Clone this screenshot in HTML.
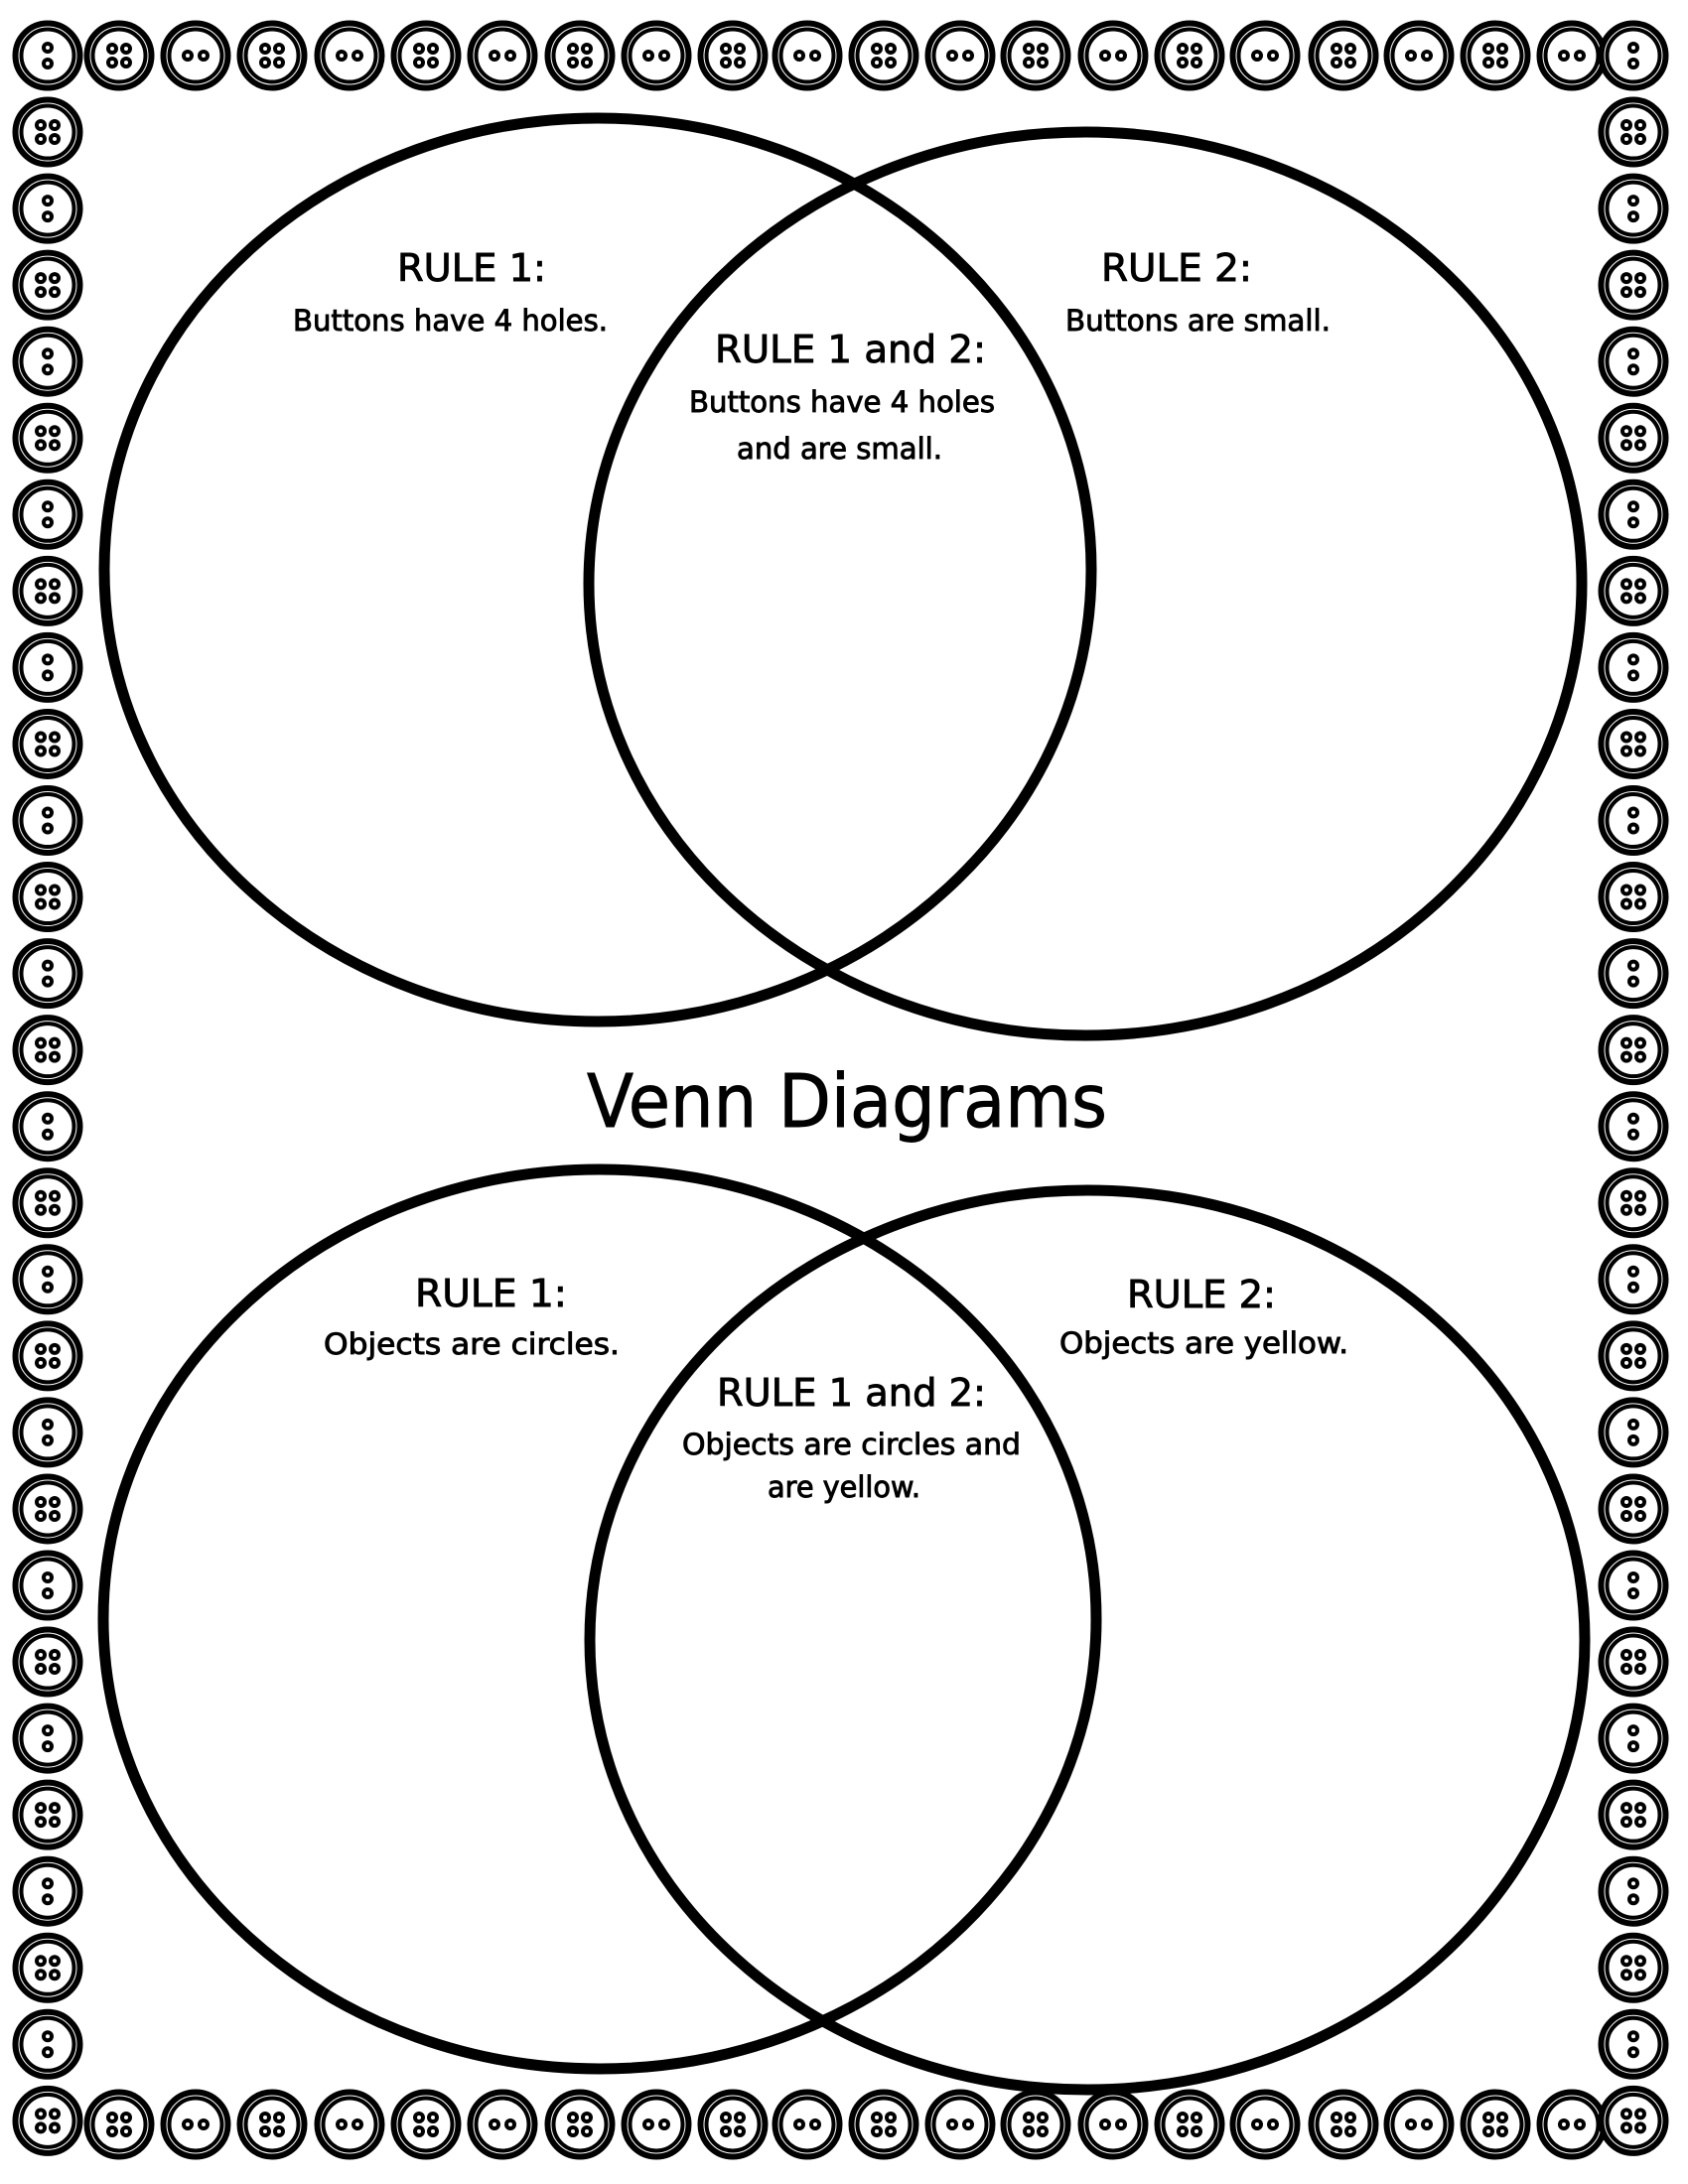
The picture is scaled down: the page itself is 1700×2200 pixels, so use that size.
<!DOCTYPE html>
<html><head><meta charset="utf-8"><style>
html,body{margin:0;padding:0;background:#fff;}
svg{display:block;}
text{font-family:"DejaVu Sans","Liberation Sans",sans-serif;fill:#000;stroke:#000;stroke-width:0.9;}
</style></head><body>
<svg id="s" width="1700" height="2200" viewBox="0 0 1700 2200" xmlns="http://www.w3.org/2000/svg">
<defs>
<g id="ring">
<circle r="32.5" fill="#fff" stroke="#000" stroke-width="6"/>
<circle r="26.5" fill="none" stroke="#000" stroke-width="4"/>
</g>
<g id="h"><circle r="6" fill="#000"/><circle r="2" fill="#fff"/></g>
<g id="b4"><use href="#ring"/><use href="#h" x="-7" y="-7"/><use href="#h" x="7" y="-7"/><use href="#h" x="-7" y="7"/><use href="#h" x="7" y="7"/></g>
<g id="bv"><use href="#ring"/><use href="#h" x="0" y="-8"/><use href="#h" x="0" y="8"/></g>
<g id="bh"><use href="#ring"/><use href="#h" x="-8" y="0"/><use href="#h" x="8" y="0"/></g>
</defs>
<g id="border"></g>
<g fill="none" stroke="#000" stroke-width="11">
<ellipse cx="602" cy="574" rx="497" ry="455"/>
<ellipse cx="1093" cy="588" rx="500" ry="455"/>
<ellipse cx="604" cy="1631" rx="500" ry="453"/>
<ellipse cx="1095" cy="1652" rx="501" ry="453"/>
</g>
<g text-anchor="start">
<text x="400" y="283" font-size="38" textLength="150" lengthAdjust="spacingAndGlyphs">RULE 1:</text>
<text x="295" y="333" font-size="29" textLength="317" lengthAdjust="spacingAndGlyphs">Buttons have 4 holes.</text>
<text x="1109" y="283" font-size="38" textLength="152" lengthAdjust="spacingAndGlyphs">RULE 2:</text>
<text x="1073" y="333" font-size="29" textLength="267" lengthAdjust="spacingAndGlyphs">Buttons are small.</text>
<text x="720" y="365" font-size="38" textLength="273" lengthAdjust="spacingAndGlyphs">RULE 1 and 2:</text>
<text x="694" y="415" font-size="29" textLength="308" lengthAdjust="spacingAndGlyphs">Buttons have 4 holes</text>
<text x="742" y="462" font-size="29" textLength="207" lengthAdjust="spacingAndGlyphs">and are small.</text>
<text x="591" y="1135" font-size="74" textLength="524" lengthAdjust="spacingAndGlyphs">Venn Diagrams</text>
<text x="418" y="1316" font-size="38" textLength="153" lengthAdjust="spacingAndGlyphs">RULE 1:</text>
<text x="326" y="1364" font-size="29" textLength="298" lengthAdjust="spacingAndGlyphs">Objects are circles.</text>
<text x="1135" y="1317" font-size="38" textLength="150" lengthAdjust="spacingAndGlyphs">RULE 2:</text>
<text x="1067" y="1363" font-size="29" textLength="291" lengthAdjust="spacingAndGlyphs">Objects are yellow.</text>
<text x="722" y="1416" font-size="38" textLength="271" lengthAdjust="spacingAndGlyphs">RULE 1 and 2:</text>
<text x="687" y="1465" font-size="29" textLength="341" lengthAdjust="spacingAndGlyphs">Objects are circles and</text>
<text x="773" y="1508" font-size="29" textLength="154" lengthAdjust="spacingAndGlyphs">are yellow.</text>
</g>
</svg>
<script>
(function(){
var g=document.getElementById('border'),NS='http://www.w3.org/2000/svg';
function b(t,x,y){var u=document.createElementNS(NS,'use');u.setAttribute('href','#'+t);u.setAttribute('x',x);u.setAttribute('y',y);g.appendChild(u);}
var tx=[120,197,274,352,429,506,584,661,738,813,890,967,1043,1121,1198,1274,1353,1429,1506,1583];
for(var j=0;j<tx.length;j++){b((j%2==0)?'b4':'bh',tx[j],56);}
for(var j=0;j<tx.length;j++){b((j%2==0)?'b4':'bh',tx[j],2140);}
for(var i=0;i<28;i++){var y=56+77.05*i;var t=(i%2==0)?'bv':'b4';b(t,48,y);b(t,1645,y);}
})();
</script>
</body></html>
